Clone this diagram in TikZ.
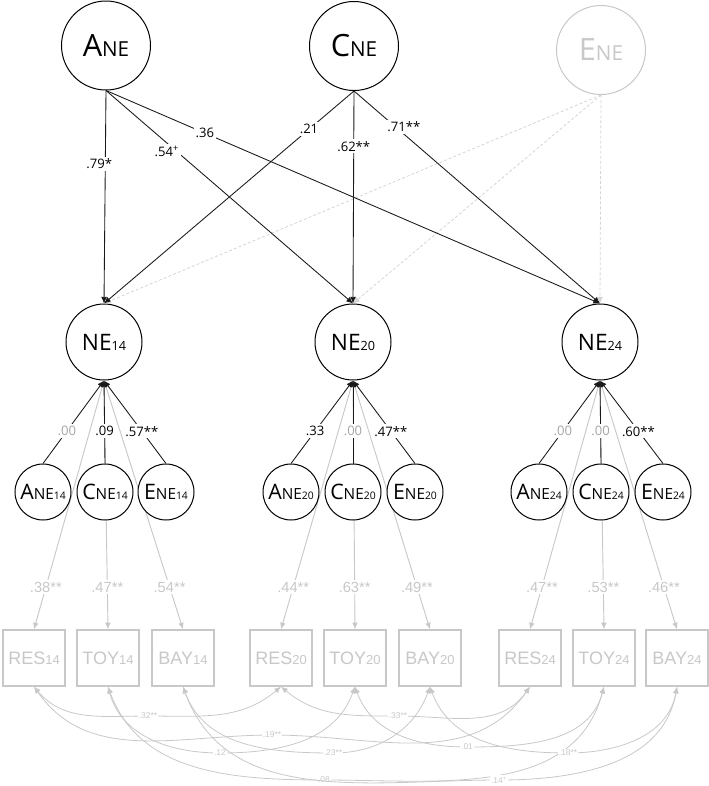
\documentclass[tikz,border=0pt]{standalone}
\usepackage{fontspec}
\setmainfont{Open Sans}
\newfontfamily\boxfont{Liberation Sans}
\usetikzlibrary{arrows.meta}

\definecolor{lgray}{HTML}{C8C8C8}
\definecolor{egray}{HTML}{D4D4D4}
\definecolor{dgray}{HTML}{A6A6A6}

% latent and observed labels
\newcommand{\toplab}[1]{{\fontsize{23}{23}\selectfont #1}{\fontsize{15.5}{16}\selectfont NE}}
\newcommand{\nelab}[1]{{\fontsize{17}{17}\selectfont NE}{\fontsize{9.5}{10}\selectfont #1}}
\newcommand{\comlab}[2]{{\fontsize{16}{16}\selectfont #1}{\fontsize{11.5}{12}\selectfont NE}{\fontsize{7.8}{8}\selectfont #2}}
\newcommand{\obslab}[2]{{\fontsize{13.5}{14}\selectfont #1}{\fontsize{9.75}{10}\selectfont #2}}

\begin{document}
\begin{tikzpicture}[x=0.75pt,y=0.75pt,
  latent/.style={circle,draw=black,line width=0.75pt,fill=white,inner sep=0pt},
  toplat/.style={latent,minimum size=66.75pt},
  nelat/.style={latent,minimum size=57pt},
  comlat/.style={latent,minimum size=42pt},
  obs/.style={rectangle,draw=lgray,line width=1pt,fill=white,minimum width=46.5pt,
    minimum height=42pt,inner sep=0pt,text=lgray,font=\boxfont},
  regpath/.style={draw=black!90,line width=0.65pt,-{Latex[length=5pt,width=4.4pt]}},
  envpath/.style={draw=egray,line width=0.6pt,dash pattern=on 2.2pt off 1.6pt,
    -{Latex[length=5pt,width=4.4pt]}},
  loading/.style={draw=lgray,line width=0.7pt,-{Latex[length=5pt,width=4.2pt]}},
  covpath/.style={draw=lgray,line width=0.6pt,
    {Latex[length=5pt,width=4.2pt]}-{Latex[length=5pt,width=4.2pt]}},
  coef/.style={fill=white,inner sep=1.5pt,font=\fontsize{9.8}{10}\selectfont},
  coefg/.style={coef,text=dgray},
  loadlab/.style={fill=white,inner sep=1.5pt,text=lgray,font=\boxfont\fontsize{11}{11}\selectfont},
  covlab/.style={fill=white,inner sep=1pt,text=lgray,font=\boxfont\fontsize{6.3}{6.3}\selectfont}]

\useasboundingbox (0,0) rectangle (708,-786);

% common factors
\node[toplat] (ANE) at (106,-45.5) {\toplab{A}};
\node[toplat] (CNE) at (354,-46) {\toplab{C}};
\node[toplat,draw=lgray,text=lgray] (ENE) at (601,-50) {\toplab{E}};

% neuroticism
\node[nelat] (NE14) at (104,-342) {\nelab{14}};
\node[nelat] (NE20) at (353,-342) {\nelab{20}};
\node[nelat] (NE24) at (600,-342) {\nelab{24}};

% indicators
\node[obs] (R14) at (34,-658) {\obslab{RES}{14}};
\node[obs] (T14) at (108,-658) {\obslab{TOY}{14}};
\node[obs] (B14) at (183,-658) {\obslab{BAY}{14}};
\node[obs] (R20) at (281,-658) {\obslab{RES}{20}};
\node[obs] (T20) at (355,-658) {\obslab{TOY}{20}};
\node[obs] (B20) at (430,-658) {\obslab{BAY}{20}};
\node[obs] (R24) at (530,-658) {\obslab{RES}{24}};
\node[obs] (T24) at (604,-658) {\obslab{TOY}{24}};
\node[obs] (B24) at (677,-658) {\obslab{BAY}{24}};

% loadings
\draw[loading] (NE14.south) -- node[loadlab,pos=0.83] {.38**} (R14.north);
\draw[loading] (NE14.south) -- node[loadlab,pos=0.83] {.47**} (T14.north);
\draw[loading] (NE14.south) -- node[loadlab,pos=0.83] {.54**} (B14.north);
\draw[loading] (NE20.south) -- node[loadlab,pos=0.83] {.44**} (R20.north);
\draw[loading] (NE20.south) -- node[loadlab,pos=0.83] {.63**} (T20.north);
\draw[loading] (NE20.south) -- node[loadlab,pos=0.83] {.49**} (B20.north);
\draw[loading] (NE24.south) -- node[loadlab,pos=0.83] {.47**} (R24.north);
\draw[loading] (NE24.south) -- node[loadlab,pos=0.83] {.53**} (T24.north);
\draw[loading] (NE24.south) -- node[loadlab,pos=0.83] {.46**} (B24.north);

% specific factors
\node[comlat] (A14) at (43,-492) {\comlab{A}{14}};
\node[comlat] (C14) at (105,-492) {\comlab{C}{14}};
\node[comlat] (E14) at (166,-492) {\comlab{E}{14}};
\node[comlat] (A20) at (291,-492) {\comlab{A}{20}};
\node[comlat] (C20) at (353,-492) {\comlab{C}{20}};
\node[comlat] (E20) at (415,-492) {\comlab{E}{20}};
\node[comlat] (A24) at (539,-492) {\comlab{A}{24}};
\node[comlat] (C24) at (601,-492) {\comlab{C}{24}};
\node[comlat] (E24) at (663,-492) {\comlab{E}{24}};

\draw[regpath] (A14.north) -- node[coefg,pos=0.39] {.00} (NE14.south);
\draw[regpath] (C14.north) -- node[coef,pos=0.39] {.09} (NE14.south);
\draw[regpath] (E14.north) -- node[coef,pos=0.39] {.57**} (NE14.south);
\draw[regpath] (A20.north) -- node[coef,pos=0.39] {.33} (NE20.south);
\draw[regpath] (C20.north) -- node[coefg,pos=0.39] {.00} (NE20.south);
\draw[regpath] (E20.north) -- node[coef,pos=0.39] {.47**} (NE20.south);
\draw[regpath] (A24.north) -- node[coefg,pos=0.39] {.00} (NE24.south);
\draw[regpath] (C24.north) -- node[coefg,pos=0.39] {.00} (NE24.south);
\draw[regpath] (E24.north) -- node[coef,pos=0.39] {.60**} (NE24.south);

% E paths
\draw[envpath] (ENE.south) -- (NE14.north);
\draw[envpath] (ENE.south) -- (NE20.north);
\draw[envpath] (ENE.south) -- (NE24.north);

% A and C paths
\draw[regpath] (ANE.south) -- node[coef,pos=0.344,xshift=-4.5pt] {.79*} (NE14.north);
\draw[regpath] (ANE.south) -- node[coef,pos=0.287,xshift=-7.5pt] {.54\textsuperscript{+}} (NE20.north);
\draw[regpath] (ANE.south) -- node[coef,pos=0.2] {.36} (NE24.north);
\draw[regpath] (CNE.south) -- node[coef,pos=0.18] {.21} (NE14.north);
\draw[regpath] (CNE.south) -- node[coef,pos=0.26] {.62**} (NE20.north);
\draw[regpath] (CNE.south) -- node[coef,pos=0.17,xshift=6pt] {.71**} (NE24.north);

% residual covariances
\draw[covpath] (R14.south) to[out=-50,in=180] (148,-716) node[covlab] {.32**} to[out=0,in=-140] (R20.south);
\draw[covpath] (R20.south) to[out=-40,in=180] (398,-716) node[covlab] {.33**} to[out=0,in=-125] (R24.south);
\draw[covpath] (R14.south) to[out=-55,in=180] (272,-735) node[covlab] {.19**} to[out=0,in=-125] (R24.south);
\draw[covpath] (T14.south) to[out=-75,in=180] (220,-753) node[covlab] {.12} to[out=0,in=-110] (T20.south);
\draw[covpath] (T20.south) to[out=-70,in=180] (467,-747) node[covlab] {.01} to[out=0,in=-105] (T24.south);
\draw[covpath] (T14.south) to[out=-70,in=180] (324,-780) node[covlab] {.08} to[out=0,in=-105] (T24.south);
\draw[covpath] (B14.south) to[out=-70,in=180] (333,-753) node[covlab] {.23**} to[out=0,in=-110] (B20.south);
\draw[covpath] (B20.south) to[out=-70,in=180] (568,-753) node[covlab] {.18**} to[out=0,in=-100] (B24.south);
\draw[covpath] (B14.south) to[out=-70,in=180] (499,-780) node[covlab] {.14\textsuperscript{+}} to[out=0,in=-100] (B24.south);

\end{tikzpicture}
\end{document}
